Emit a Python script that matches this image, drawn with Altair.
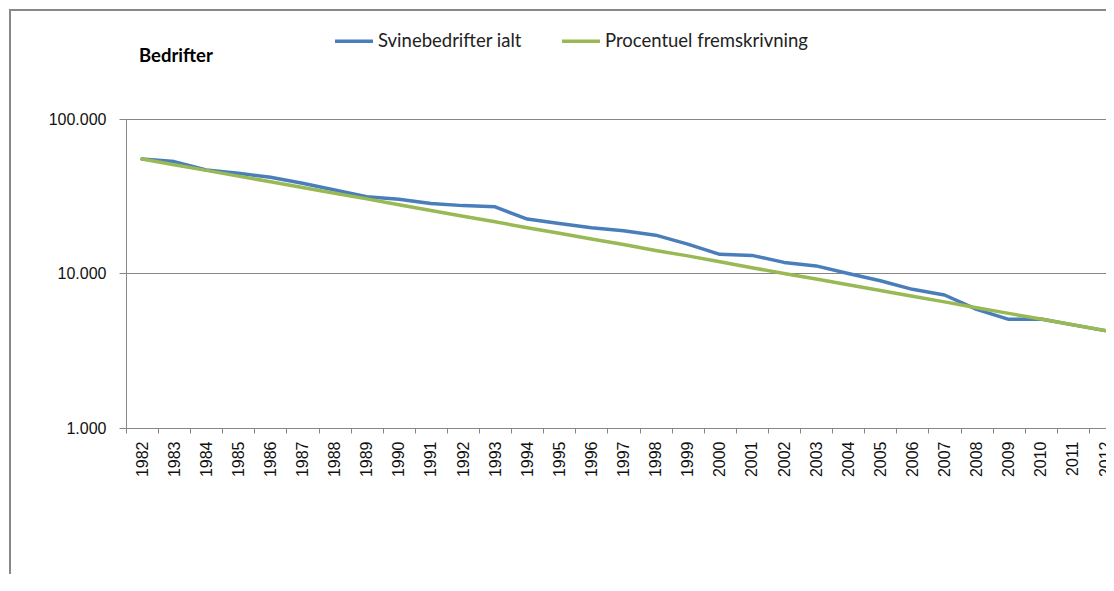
import altair as alt
import pandas as pd

years = list(range(1982, 2013))
svinebedrifter = [55100, 53000, 46800, 44600, 42000, 38400, 34700, 31400, 30200, 28400,
                  27500, 27000, 22500, 21100, 19800, 18900, 17700, 15500, 13300, 13100,
                  11800, 11200, 10000, 8970, 7900, 7260, 5860, 5050, 5070, 4650, 4270]
fremskrivning = [55100, 50600, 46500, 42700, 39200, 36000, 33100, 30400, 27900, 25600,
                 23500, 21600, 19800, 18200, 16700, 15400, 14100, 13000, 11900, 10900,
                 10000, 9200, 8450, 7760, 7130, 6550, 6010, 5520, 5070, 4660, 4280]
series_names = ["Svinebedrifter ialt", "Procentuel fremskrivning"]
series_colors = ["#4A7EBB", "#98B954"]
y_ticks = [1000, 10000, 100000]
x_tick_positions = [y - 0.5 for y in years]
axis_title = ["Bedrifter"]

rows = []
for name, vals in zip(series_names, [svinebedrifter, fremskrivning]):
    for yr, v in zip(years, vals):
        rows.append({"year": yr, "value": v, "series": name})
df = pd.DataFrame(rows)

grey = "#868686"

lines = alt.Chart(df).mark_line(strokeWidth=3.5, strokeCap="round", strokeJoin="round").encode(
    x=alt.X("year:Q",
            scale=alt.Scale(domain=[1981.5, 2012.03], nice=False, zero=False),
            axis=alt.Axis(values=x_tick_positions,
                          labelExpr="format(datum.value + 0.5, 'd')",
                          labelOffset=16.05, labelAngle=-90, labelFlush=False,
                          labelOverlap=False, labelBound=False,
                          tickSize=5, tickColor=grey, domainColor=grey,
                          labelPadding=8, labelFont="Liberation Sans", labelFontSize=16,
                          labelColor="#111", grid=False, title=None)),
    y=alt.Y("value:Q",
            scale=alt.Scale(type="log", domain=[1000, 100000], nice=False),
            axis=alt.Axis(values=y_ticks,
                          labelExpr="replace(format(datum.value, ','), ',', '.')",
                          grid=True, gridColor=grey, gridWidth=1,
                          tickSize=7, tickColor=grey, domainColor=grey,
                          labelPadding=13, labelFont="Liberation Sans", labelFontSize=16,
                          labelColor="#111", title=None)),
    color=alt.Color("series:N",
                    scale=alt.Scale(domain=series_names, range=series_colors),
                    sort=series_names,
                    legend=alt.Legend(orient="none", legendX=207, legendY=-99,
                                      direction="horizontal", title=None,
                                      symbolType="stroke", symbolSize=1444,
                                      symbolStrokeWidth=3.5, labelFont="Lato",
                                      labelFontSize=18.5, labelColor="#222",
                                      columnPadding=33, labelOffset=3, labelLimit=400)),
)

title_df = pd.DataFrame({"t": axis_title})
title = alt.Chart(title_df).mark_text(align="left", baseline="middle", font="Lato",
                                      fontSize=18.5, fontWeight="bold", color="#000").encode(
    text="t:N", x=alt.value(13), y=alt.value(-63))

frame_left = alt.Chart(title_df).mark_rule(color="#888888", strokeWidth=2).encode(
    x=alt.value(-116), y=alt.value(-109), y2=alt.value(480))
frame_top = alt.Chart(title_df).mark_rule(color="#888888", strokeWidth=2).encode(
    x=alt.value(-117), x2=alt.value(1000), y=alt.value(-109))

chart = alt.layer(frame_left, frame_top, lines, title).properties(
    width=980, height=309,
    padding={"left": 118, "top": 111, "right": 0, "bottom": 146},
    autosize=alt.AutoSizeParams(type="none"),
).configure_view(stroke=None).configure(background="white")

chart.save("out.html", embed_options={"renderer": "svg", "actions": False})
